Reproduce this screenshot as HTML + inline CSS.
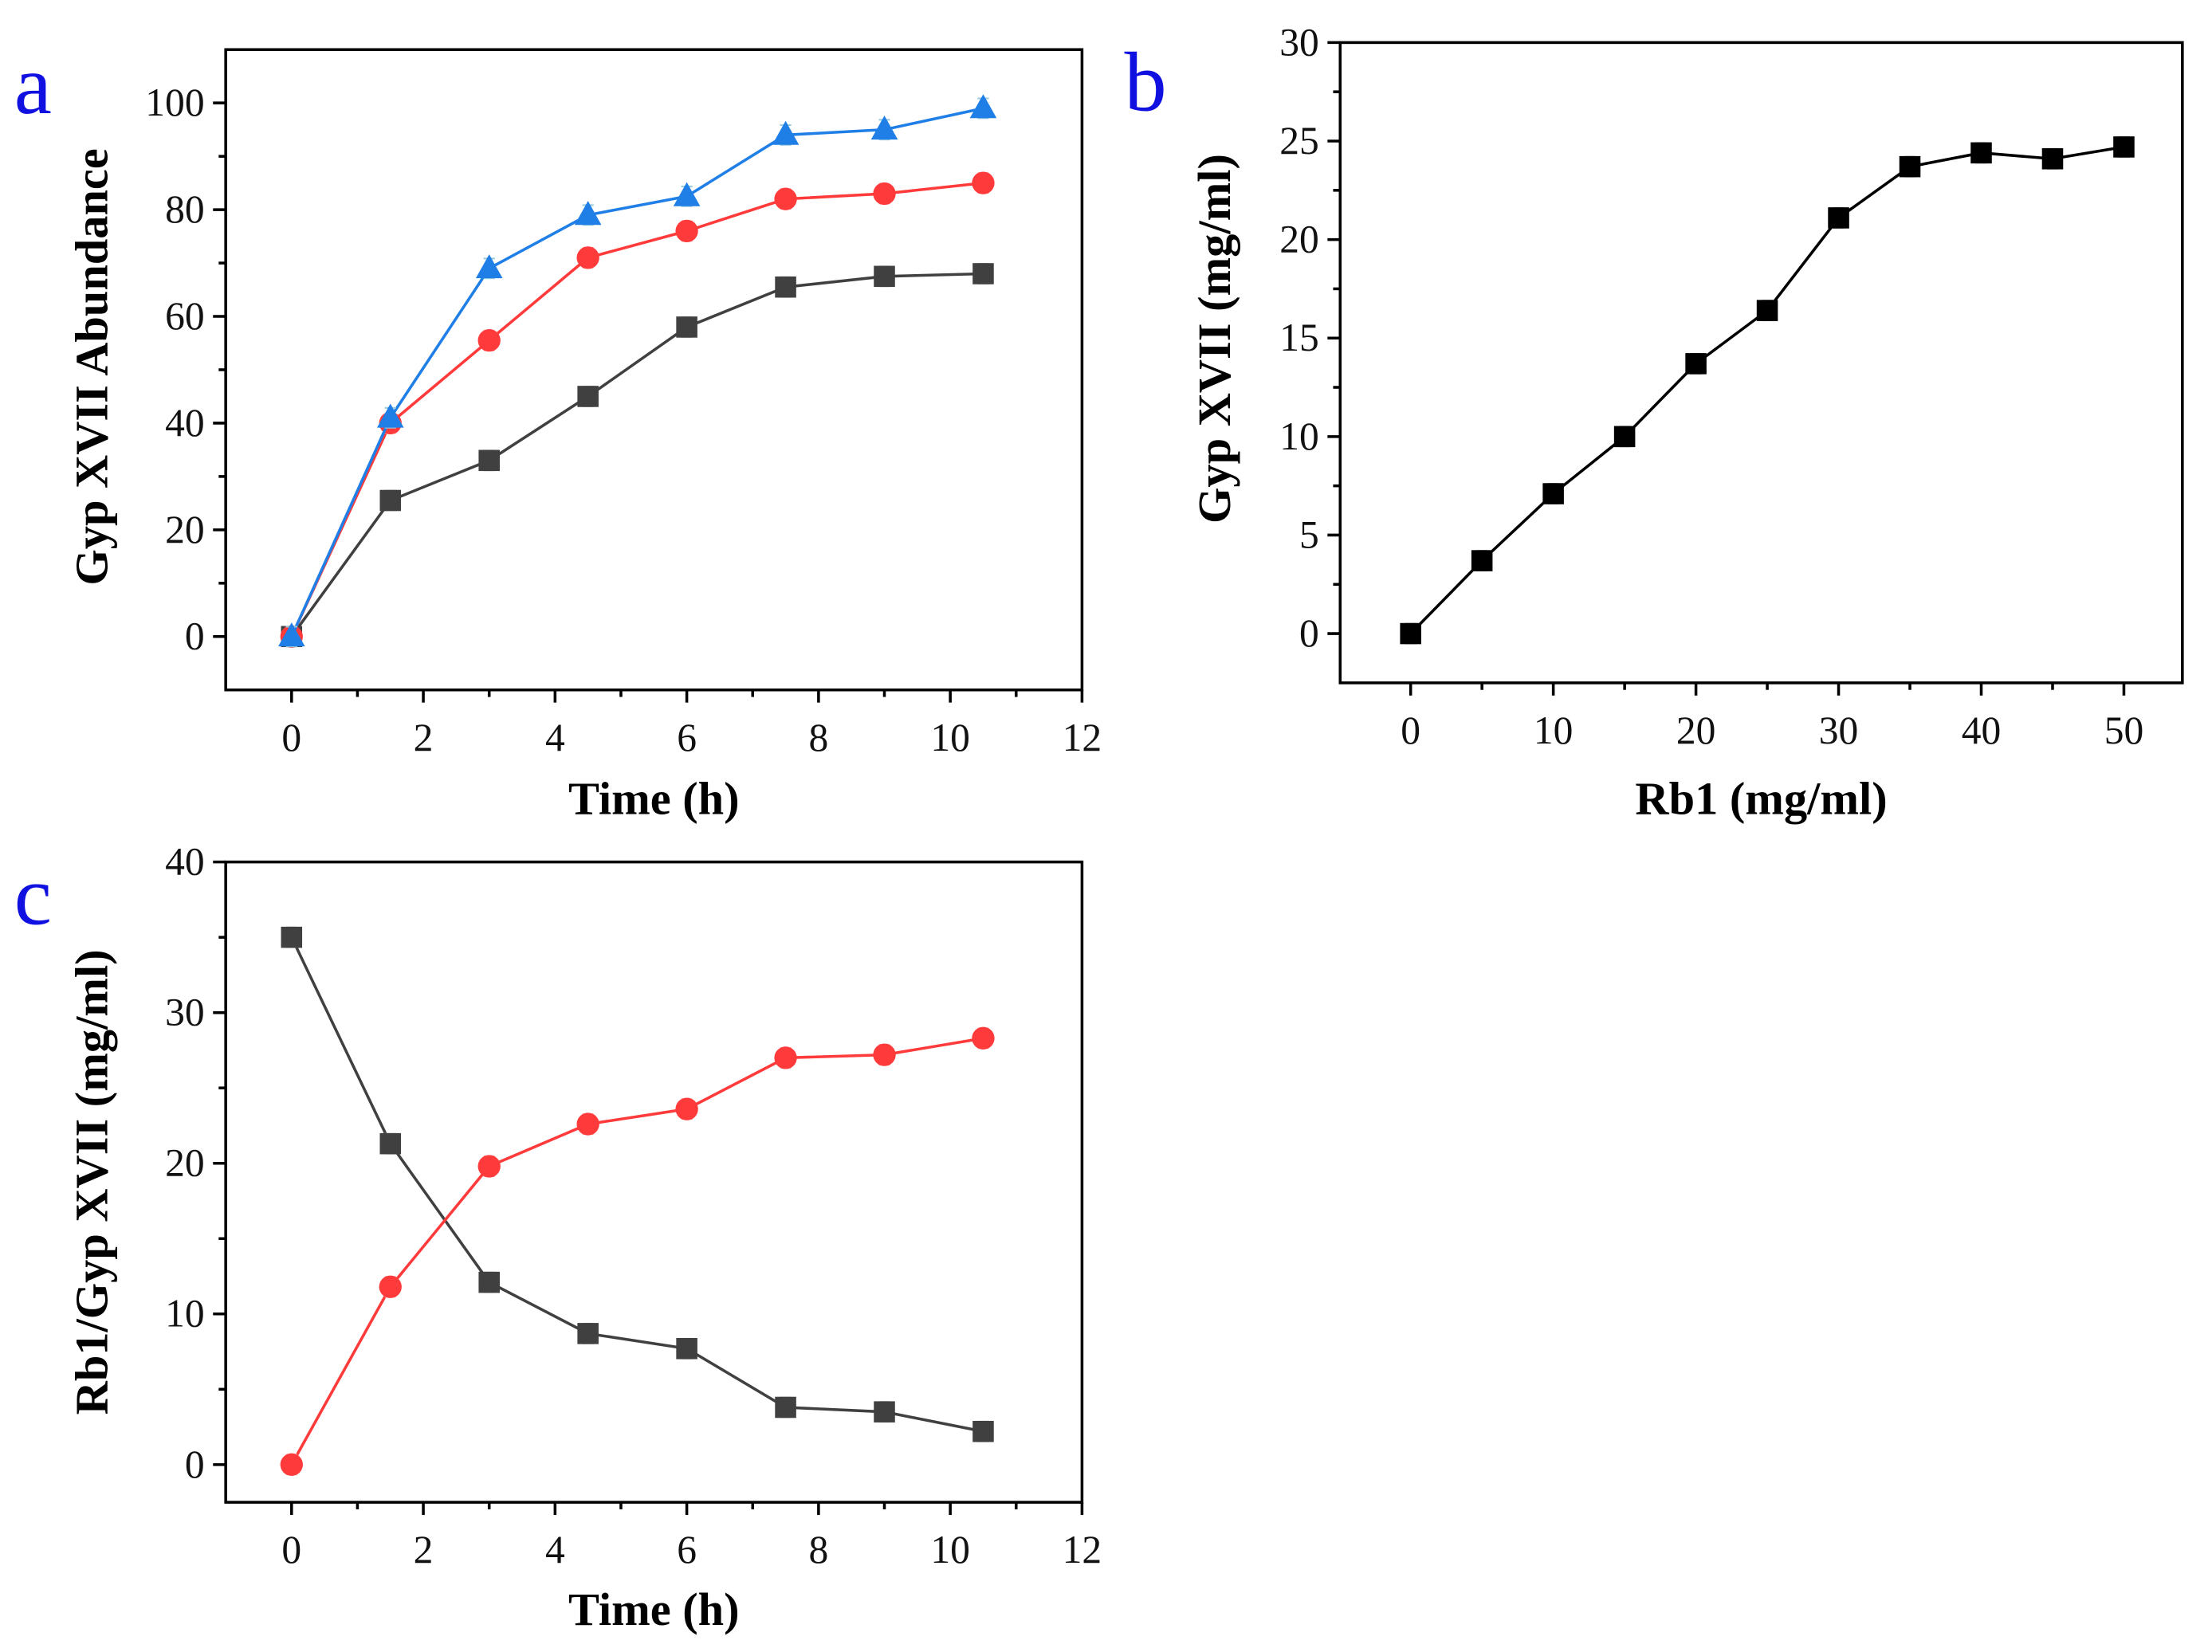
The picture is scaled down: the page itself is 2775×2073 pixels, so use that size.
<!DOCTYPE html>
<html><head><meta charset="utf-8"><style>
html,body{margin:0;padding:0;background:#fff;}
svg{display:block;font-family:"Liberation Serif",serif;}
</style></head><body>
<svg id="fig" width="2775" height="2073" viewBox="0 0 1568 1171" xmlns="http://www.w3.org/2000/svg"></svg>
<script>
// Panel a data
const timeA = [0,1.5,3,4.5,6,7.5,9,10.5];
const aBlue = [0,41,69,79,82.5,94,95,99];
const aRed = [0,40,55.5,71,76,82,83,85];
const aGray = [0,25.5,33,45,58,65.5,67.5,68];
const aXTicks = [0,2,4,6,8,10,12];
const aYTicks = [0,20,40,60,80,100];
// Panel b data
const rb1 = [0,5,10,15,20,25,30,35,40,45,50];
const bGyp = [0,3.7,7.1,10,13.7,16.4,21.1,23.7,24.4,24.1,24.7];
const bXTicks = [0,10,20,30,40,50];
const bYTicks = [0,5,10,15,20,25,30];
// Panel c data
const timeC = [0,1.5,3,4.5,6,7.5,9,10.5];
const cGray = [35,21.3,12.1,8.7,7.7,3.8,3.5,2.2];
const cRed = [0,11.8,19.8,22.6,23.6,27,27.2,28.3];
const cXTicks = [0,2,4,6,8,10,12];
const cYTicks = [0,10,20,30,40];

const svg = document.getElementById('fig');
const NS = 'http://www.w3.org/2000/svg';
function mk(tag, attrs, parent){const e=document.createElementNS(NS,tag);for(const k in attrs)e.setAttribute(k,attrs[k]);(parent||svg).appendChild(e);return e;}

function panel(o){
  const g = mk('g',{});
  
  
  const sx = v => o.x0 + (v - o.xmin)/(o.xmax - o.xmin)*(o.x1 - o.x0);
  const sy = v => o.y1 - (v - o.ymin)/(o.ymax - o.ymin)*(o.y1 - o.y0);
  const box = mk('rect',{x:o.x0,y:o.y0,width:o.x1-o.x0,height:o.y1-o.y0,fill:'none',stroke:'#000','stroke-width':2},g);
  
  
  o.xt.forEach((t,i)=>{
    const x=sx(t);
    mk('line',{x1:x,y1:o.y1,x2:x,y2:o.y1+9,stroke:'#000','stroke-width':2},g);
    if(i<o.xt.length-1){const xm=sx(t+(o.xt[1]-o.xt[0])/2);mk('line',{x1:xm,y1:o.y1,x2:xm,y2:o.y1+5,stroke:'#000','stroke-width':2},g);}
    const tx=mk('text',{x:x,y:o.y1+43,'font-size':28,'text-anchor':'middle',fill:'#111'},g);
    tx.textContent=t;
    
    
  });
  o.yt.forEach((t,i)=>{
    const y=sy(t);
    mk('line',{x1:o.x0-9,y1:y,x2:o.x0,y2:y,stroke:'#000','stroke-width':2},g);
    if(i<o.yt.length-1){const ym=sy(t+(o.yt[1]-o.yt[0])/2);mk('line',{x1:o.x0-5,y1:ym,x2:o.x0,y2:ym,stroke:'#000','stroke-width':2},g);}
    const tx=mk('text',{x:o.x0-15,y:y+9,'font-size':28,'text-anchor':'end',fill:'#111'},g);
    tx.textContent=t;
    
    
  });
  const xt=mk('text',{x:(o.x0+o.x1)/2,y:o.xTitleY,'font-size':33,'font-weight':'bold','text-anchor':'middle'},g);
  xt.textContent=o.xTitle;
  
  
  const yc=o.yTitleC;
  const yt=mk('text',{x:o.yTitleX,y:yc,'font-size':33,'font-weight':'bold','text-anchor':'middle',transform:`rotate(-90 ${o.yTitleX} ${yc})`},g);
  yt.textContent=o.yTitle;
  
  
  const lt=mk('text',{x:o.lx,y:o.ly,'font-size':60,fill:'#1010e0'},g);
  lt.textContent=o.letter;
  
  
  o.series.forEach(s=>{
    const sg=mk('g',{},g);
    
    
    const pts=s.xs.map((v,i)=>sx(v)+','+sy(s.ys[i])).join(' ');
    mk('polyline',{points:pts,fill:'none',stroke:s.line,'stroke-width':2},sg);
    s.xs.forEach((v,i)=>{
      const x=sx(v),y=sy(s.ys[i]);
      if(s.err){mk('line',{x1:x,y1:y-7,x2:x,y2:y+7,stroke:s.err,'stroke-width':1.2},sg);
        mk('line',{x1:x-4,y1:y-7,x2:x+4,y2:y-7,stroke:s.err,'stroke-width':1.2},sg);
        mk('line',{x1:x-4,y1:y+7,x2:x+4,y2:y+7,stroke:s.err,'stroke-width':1.2},sg);}
      let m;
      if(s.shape==='sq') m=mk('rect',{x:x-7.5,y:y-7.5,width:15,height:15,fill:s.fill},sg);
      else if(s.shape==='ci') m=mk('circle',{cx:x,cy:y,r:8,fill:s.fill},sg);
      else m=mk('polygon',{points:`${x},${y-10} ${x-9.5},${y+7} ${x+9.5},${y+7}`,fill:s.fill},sg);
      
      
    });
  });
}

panel({name:'panel-a',x0:160,x1:767,y0:35,y1:489,xmin:-1,xmax:12,ymin:-10,ymax:110,
  xt:aXTicks,yt:aYTicks,xTitle:'Time (h)',xTitleY:577,yTitle:'Gyp XVII Abundance',yTitleX:76,yTitleC:260,
  letter:'a',lx:10,ly:80,
  series:[
    {name:'series-gray',xs:timeA,ys:aGray,shape:'sq',fill:'#404040',line:'#404040',err:'#bbb'},
    {name:'series-red',xs:timeA,ys:aRed,shape:'ci',fill:'#ff3a3a',line:'#ff3a3a',err:'#fbb'},
    {name:'series-blue',xs:timeA,ys:aBlue,shape:'tr',fill:'#1f7fe6',line:'#1f7fe6',err:'#9cd'}
  ]});
panel({name:'panel-b',x0:950,x1:1547,y0:30,y1:484,xmin:-4.94,xmax:54.1,ymin:-2.5,ymax:30,
  xt:bXTicks,yt:bYTicks,xTitle:'Rb1 (mg/ml)',xTitleY:577,yTitle:'Gyp XVII (mg/ml)',yTitleX:872,yTitleC:240,
  letter:'b',lx:797,ly:78,
  series:[{name:'series-gyp',xs:rb1,ys:bGyp,shape:'sq',fill:'#000',line:'#000',err:'#999'}]});
panel({name:'panel-c',x0:160,x1:767,y0:611,y1:1065,xmin:-1,xmax:12,ymin:-2.5,ymax:40,
  xt:cXTicks,yt:cYTicks,xTitle:'Time (h)',xTitleY:1152,yTitle:'Rb1/Gyp XVII (mg/ml)',yTitleX:76,yTitleC:838,
  letter:'c',lx:10,ly:655,
  series:[
    {name:'series-rb1',xs:timeC,ys:cGray,shape:'sq',fill:'#404040',line:'#404040',err:'#bbb'},
    {name:'series-gypxvii',xs:timeC,ys:cRed,shape:'ci',fill:'#ff3a3a',line:'#ff3a3a',err:'#fbb'}
  ]});
</script>
</body></html>
